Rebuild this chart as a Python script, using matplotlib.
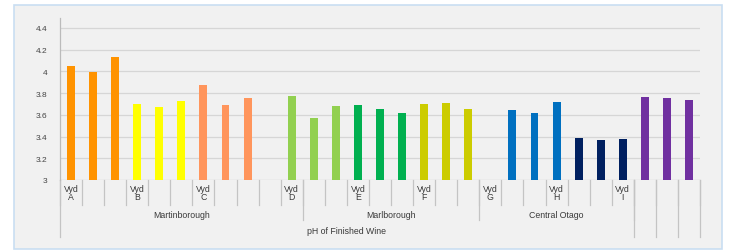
import matplotlib.pyplot as plt
import matplotlib.patches as mpatches

plt.rcParams["font.family"] = ["Liberation Sans", "DejaVu Sans"]

# ---- data (one slot per category, None = empty slot) ----
ph_values = [4.05, 3.99, 4.13, 3.70, 3.67, 3.73, 3.87, 3.69, 3.75, None,
             3.77, 3.57, 3.68, 3.69, 3.65, 3.62, 3.70, 3.71, 3.65, None,
             3.64, 3.62, 3.72, 3.39, 3.37, 3.38, 3.76, 3.75, 3.74]
bar_colors = ["#FF9300"] * 3 + ["#FFFF00"] * 3 + ["#FF955C"] * 3 + ["none"] + \
             ["#92D050"] * 3 + ["#00B050"] * 3 + ["#CCCC00"] * 3 + ["none"] + \
             ["#0070C0"] * 3 + ["#002060"] * 3 + ["#7030A0"] * 3
vyd_labels = {0: "A", 3: "B", 6: "C", 10: "D", 13: "E", 16: "F", 19: "G", 22: "H", 25: "I"}
regions = ["Martinborough", "Marlborough", "Central Otago"]
region_spans = [(0, 10), (11, 18), (19, 25)]
outer_label = "pH of Finished Wine"
outer_span = (0, 25)
yticks = [3, 3.2, 3.4, 3.6, 3.8, 4, 4.2, 4.4]
ytick_labels = ["3", "3.2", "3.4", "3.6", "3.8", "4", "4.2", "4.4"]

n = len(ph_values)
fig = plt.figure(figsize=(7.29, 2.53), dpi=100)
fig.patch.set_facecolor("white")

# grey panel with light blue border
W, H = 729, 253
panel = mpatches.Rectangle((14 / W, 3 / H), 708 / W, 244 / H, transform=fig.transFigure,
                           facecolor="#F1F1F1", edgecolor="#C9DEF2", linewidth=1.2, zorder=-10)
fig.patches.append(panel)

ax = fig.add_axes([60 / W, 72 / H, 640 / W, 162 / H])
ax.set_facecolor("none")

xs = [i for i in range(n) if ph_values[i] is not None]
ax.bar(xs, [ph_values[i] - 3 for i in xs], bottom=3, width=0.36,
       color=[bar_colors[i] for i in xs], zorder=3)

ax.set_xlim(-0.5, n - 0.5)
ax.set_ylim(3, 4.49)
ax.set_yticks(yticks)
ax.set_yticklabels(ytick_labels, fontsize=6, color="#444444")
ax.tick_params(axis="y", length=0, pad=9)
ax.set_xticks([])
for y in yticks[1:]:
    ax.axhline(y, color="#D6D6D6", linewidth=0.9, zorder=1)
ax.axhline(3, color="#C8C8C8", linewidth=0.9, zorder=1)

for s in ["top", "right", "bottom"]:
    ax.spines[s].set_visible(False)
ax.spines["left"].set_color("#BBBBBB")
ax.spines["left"].set_linewidth(0.9)
ax.spines["left"].set_bounds(3, 4.49)

tr = ax.get_xaxis_transform()
sep_col = "#C4C4C4"
txt_col = "#3A3A3A"

# level 1 separators and Vyd labels
for k in range(n + 1):
    ax.plot([k - 0.5, k - 0.5], [0, -0.154], transform=tr, color=sep_col,
            linewidth=0.9, clip_on=False)
for i, lab in vyd_labels.items():
    ax.text(i, -0.025, "Vyd\n" + lab, transform=tr, ha="center", va="top",
            fontsize=6.3, color=txt_col, linespacing=0.8)

# level 2 separators and region labels
for (a, b), name in zip(region_spans, regions):
    ax.plot([b + 0.5, b + 0.5], [0, -0.247], transform=tr, color=sep_col,
            linewidth=0.9, clip_on=False)
    ax.text((a + b) / 2, -0.21, name, transform=tr, ha="center", va="center",
            fontsize=6.3, color=txt_col)

# level 3 and the trailing unlabeled slots
for x in [-0.5] + [k - 0.5 for k in range(outer_span[1] + 1, n + 1)]:
    ax.plot([x, x], [0, -0.352], transform=tr, color=sep_col,
            linewidth=0.9, clip_on=False)
ax.text(sum(outer_span) / 2, -0.31, outer_label, transform=tr, ha="center",
        va="center", fontsize=6.3, color=txt_col)

plt.savefig("out.png", dpi=100, facecolor=fig.get_facecolor())
